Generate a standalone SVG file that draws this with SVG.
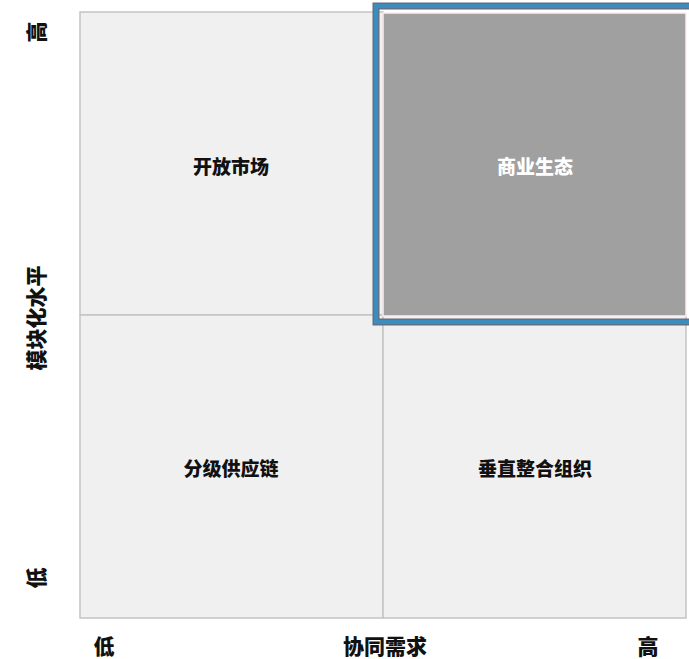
<svg xmlns="http://www.w3.org/2000/svg" width="689" height="659" viewBox="0 0 689 659">
<style>
.q{fill:#f0f0f0;stroke:#c4c4c4;stroke-width:1.5}
.t{font-family:"Noto Sans CJK SC","Liberation Sans",sans-serif;font-weight:900;font-size:19px;text-anchor:middle;dominant-baseline:central;fill:#111}
.a{font-family:"Noto Sans CJK SC","Liberation Sans",sans-serif;font-weight:900;font-size:21px;text-anchor:middle;dominant-baseline:central;fill:#111}
</style>
<rect width="689" height="659" fill="#fff"/>
<g id="q-open-market">
<rect class="q" x="80" y="12" width="303" height="303"/>
<text class="t" x="231" y="165">开放市场</text>
</g>
<g id="q-tiered-supply">
<rect class="q" x="80" y="315" width="303" height="303"/>
<text class="t" x="231" y="467">分级供应链</text>
</g>
<g id="q-vertical">
<rect class="q" x="383" y="315" width="303" height="303"/>
<text class="t" x="535" y="467">垂直整合组织</text>
</g>
<g id="q-ecosystem">
<rect x="383" y="13" width="303" height="303" fill="#a0a0a0" stroke="#fbeeee" stroke-width="1.5"/>
<rect x="376" y="6" width="318" height="316" fill="none" stroke="#6a6a7a" stroke-width="7"/>
<rect x="376" y="6" width="318" height="316" fill="none" stroke="#3a8dbd" stroke-width="4.5"/>
<text class="t" x="535" y="165" style="fill:#fff">商业生态</text>
</g>
<g id="connectors"></g>
<g id="axes">
<text class="a" transform="translate(35,32) rotate(-90)">高</text>
<text class="a" transform="translate(35,318) rotate(-90)">模块化水平</text>
<text class="a" transform="translate(35,578) rotate(-90)">低</text>
<text class="a" x="104" y="645">低</text>
<text class="a" x="385" y="645">协同需求</text>
<text class="a" x="648" y="645">高</text>
</g>
</svg>
